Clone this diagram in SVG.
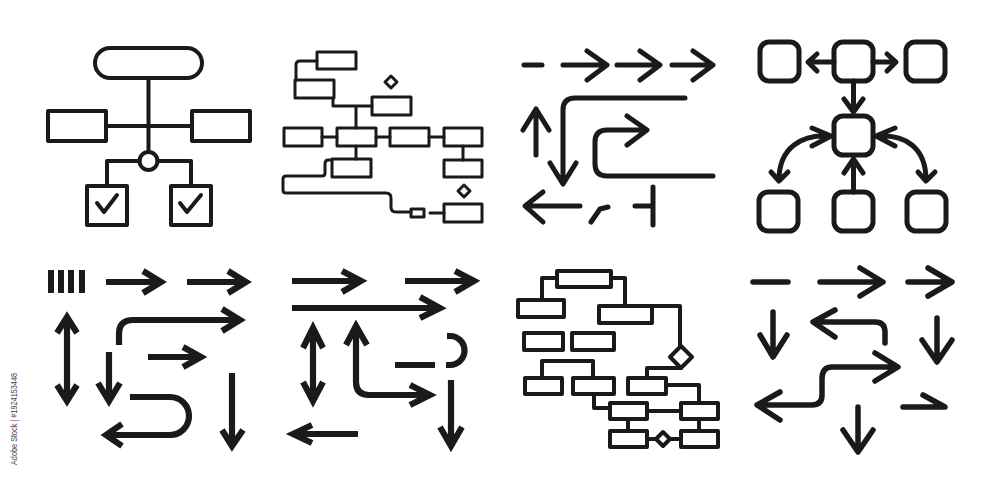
<svg xmlns="http://www.w3.org/2000/svg" width="1000" height="492" viewBox="0 0 1000 492">
<style>
.s{fill:none;stroke:#1a1a1a;stroke-linejoin:round;stroke-linecap:round}
.w3{stroke-width:3}.w4{stroke-width:4}.w5{stroke-width:5}.w6{stroke-width:6.2;stroke-linecap:butt;stroke-linejoin:miter}.w55{stroke-width:5.5}
.f{fill:#1a1a1a;stroke:none}
.id{font-family:"Liberation Sans",Arial,sans-serif;font-size:9px;fill:#444}
</style>
<rect width="1000" height="492" fill="#fff"/>

<g id="icon-org-chart" class="s w4">
  <rect x="95" y="48" width="107" height="30" rx="15"/>
  <rect x="48" y="111" width="58" height="30"/>
  <rect x="192" y="111" width="58" height="30"/>
  <path d="M148.5 78V152M106 126H192"/>
  <circle cx="148.5" cy="161" r="9"/>
  <path d="M139.5 161H107V186M157.5 161H191V186"/>
  <rect x="87" y="186" width="40" height="39"/>
  <rect x="171" y="186" width="40" height="39"/>
  <path d="M97 203L104 212L117 195M180 203L187 212L201 195"/>
</g>

<g id="icon-tree-flow" class="s w3">
  <rect x="317" y="52" width="39" height="17"/>
  <rect x="295" y="80" width="39" height="18"/>
  <rect x="372" y="97" width="39" height="18"/>
  <path d="M391 76L397 82L391 88L385 82Z"/>
  <path d="M317 61H300Q296 61 296 65V80M333 98V106H372M356 106V128"/>
  <rect x="284" y="128" width="38" height="18"/>
  <rect x="337" y="128" width="39" height="18"/>
  <rect x="390" y="128" width="39" height="18"/>
  <rect x="444" y="128" width="38" height="18"/>
  <path d="M322 137H337M376 137H390M429 137H444M356 146V159M463 146V160"/>
  <rect x="332" y="159" width="39" height="18"/>
  <rect x="444" y="160" width="38" height="17"/>
  <path d="M332 160H328Q325 160 325 164V173Q325 176 322 176H286Q283 176 283 179V190Q283 193 286 193H386Q391 193 391 198V207Q391 212 396 212H411"/>
  <rect x="411" y="209" width="13" height="8"/>
  <path d="M430 213H444"/>
  <rect x="444" y="204" width="38" height="18"/>
  <path d="M464 185L470 191L464 197L458 191Z"/>
</g>

<g id="icon-arrows-thin" class="s w5">
  <path d="M524 65H542M563 65H606M587 51L607 65L587 80M617 65H659M640 51L660 65L640 80M672 65H712M693 51L713 65L693 80"/>
  <path d="M685 98H575Q563 98 563 110V183M550 163L563 184L576 163"/>
  <path d="M536 155V110M523 130L536 109L549 130"/>
  <path d="M713 176H607Q595 176 595 164V142Q595 130 607 130H646M627 116L647 130L627 145"/>
  <path d="M580 206H526M543 192L525 206L543 222"/>
  <path d="M591 222L600 209L608 207"/>
  <path d="M635 206H653M653 187V225"/>
</g>

<g id="icon-hub-flow" class="s w5">
  <rect x="760" y="42" width="39" height="39" rx="9"/>
  <rect x="834" y="42" width="39" height="39" rx="9"/>
  <rect x="906" y="42" width="39" height="39" rx="9"/>
  <rect x="834" y="116" width="39" height="39" rx="9"/>
  <rect x="759" y="192" width="39" height="39" rx="9"/>
  <rect x="834" y="192" width="39" height="39" rx="9"/>
  <rect x="907" y="192" width="39" height="39" rx="9"/>
  <path d="M834 62H809M817 54L808 62L817 71M873 62H895M887 54L896 62L887 71"/>
  <path d="M853.5 81V111M844 99L853.5 112L863 99"/>
  <path d="M853.5 192V160M844 173L853.5 159L863 173"/>
  <path d="M831 136C801 134 779 148 779 180M771 172L779 181L788 172M812 128L831 136L812 146"/>
  <path d="M876 136C906 134 926 148 926 180M918 172L926 181L935 172M895 128L876 136L895 146"/>
</g>

<g id="icon-arrows-bold" class="s w6">
  <g class="f">
    <rect x="48" y="270" width="6" height="23"/>
    <rect x="58" y="270" width="6" height="23"/>
    <rect x="68" y="270" width="6" height="23"/>
    <rect x="79" y="270" width="6" height="23"/>
  </g>
  <path d="M106 282H160M143 271L161 282L143 293"/>
  <path d="M187 282H244M228 271L246 282L228 293"/>
  <path d="M67 318V400M57 333L67 317L77 333M57 385L67 401L77 385"/>
  <path d="M119 345V334Q119 320 133 320H238M222 309L240 320L222 331"/>
  <path d="M109 352V399M98 383L109 401L120 383"/>
  <path d="M148 357H200M183 347L201 357L183 367"/>
  <path d="M130 397H170A19 19 0 0 1 170 435H108M122 424L106 435L122 446"/>
  <path d="M232 373V444M222 430L232 446L243 430"/>
</g>

<g id="icon-arrows-bold-2" class="s w6">
  <path d="M292 281H360M342 271L361 281L342 292"/>
  <path d="M405 281H472M455 271L474 281L455 292"/>
  <path d="M292 308H438M420 297L440 308L420 318"/>
  <path d="M313 330V399M303 348L313 328L323 348M303 382L313 401L323 382"/>
  <path d="M356 328V382Q356 395 369 395H428M346 345L356 326L367 345M410 385L430 395L410 405"/>
  <path d="M395 365H435"/>
  <path d="M447 336H450A14.5 14.5 0 0 1 450 365H446"/>
  <path d="M451 380V444M440 427L451 446L462 427"/>
  <path d="M358 434H294M312 425L293 434L312 443"/>
</g>

<g id="icon-process-tree" class="s w4">
  <rect x="557" y="271" width="54" height="16"/>
  <rect x="518" y="300" width="46" height="17"/>
  <rect x="599" y="306" width="53" height="17"/>
  <rect x="524" y="333" width="39" height="17"/>
  <rect x="572" y="333" width="42" height="17"/>
  <rect x="525" y="378" width="37" height="16"/>
  <rect x="573" y="378" width="41" height="16"/>
  <rect x="628" y="378" width="38" height="16"/>
  <rect x="610" y="403" width="37" height="16"/>
  <rect x="681" y="403" width="37" height="16"/>
  <rect x="610" y="431" width="37" height="16"/>
  <rect x="681" y="431" width="37" height="16"/>
  <path d="M557 278H542V300M611 278H625V306M652 306H680V346"/>
  <path d="M681 346L692 357L681 368L670 357Z"/>
  <path d="M681 368H647V378"/>
  <path d="M542 378V361H593V378"/>
  <path d="M594 394V408H610M666 385H699V403"/>
  <path d="M647 411H681M628 419V431M699 419V431"/>
  <path d="M647 439H656M670 439H681M663 432L670 439L663 446L656 439Z"/>
</g>

<g id="icon-arrows-round" class="s w55">
  <path d="M753 282H788"/>
  <path d="M820 282H882M860 268L883 282L860 296"/>
  <path d="M908 282H951M928 268L952 282L928 296"/>
  <path d="M773 312V356M760 335L773 357L787 335"/>
  <path d="M885 343V332Q885 322 875 322H814M835 310L813 322L835 337"/>
  <path d="M937 318V361M922 340L937 362L952 340"/>
  <path d="M758 405H812Q822 405 822 395V379Q822 367 832 367H896M875 353L898 367L875 381M780 392L757 405L780 420"/>
  <path d="M858 407V451M843 430L858 452L873 430"/>
  <path d="M903 407H945L923 395"/>
</g>

<text class="id" transform="translate(17,465) rotate(-90)" textLength="92" lengthAdjust="spacingAndGlyphs">Adobe Stock | #1924153448</text>
</svg>
